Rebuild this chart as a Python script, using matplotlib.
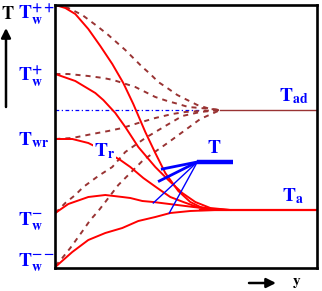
import matplotlib
matplotlib.use('Agg')
import matplotlib.pyplot as plt

#
# DATA (distance from wall, temperature) in arbitrary units
#

T_AD = 158
T_A = 58

# solid profiles: wall -> ambient temperature T_a
red_tw_pp_d = [0, 10, 20, 33, 45, 57, 68, 78, 90, 100, 110, 123, 135, 145, 160, 175]
red_tw_pp_t = [263, 260, 254, 239, 222, 204, 185, 164, 136, 115, 95, 77, 66, 61, 58, 58]

red_tw_p_d = [0, 20, 40, 48, 60, 70, 83, 100, 113, 127, 140, 155, 175]
red_tw_p_t = [194, 187, 175, 168, 155, 141, 121, 101, 88, 75, 66, 60, 58]

red_twr_d = [0, 17, 33, 45, 58, 65, 75, 88, 102, 115, 128, 142, 155, 170]
red_twr_t = [129, 129, 125, 119, 112, 108, 101, 90, 80, 71, 66, 61, 59, 58]

red_tw_m_d = [0, 13, 33, 50, 67, 75, 87, 98, 122, 138, 155, 175]
red_tw_m_t = [55, 64, 71, 73, 71, 70, 67, 66, 63, 61, 59, 58]

red_tw_mm_d = [0, 17, 33, 50, 67, 83, 100, 115, 135, 160]
red_tw_mm_t = [1, 16, 28, 35, 40, 47, 51, 55, 57, 58]

# dashed profiles: wall -> adiabatic wall temperature T_ad
brn_tw_pp_d = [0, 13, 27, 43, 53, 70, 78, 87, 95, 103, 112, 122, 132, 142, 155, 165]
brn_tw_pp_t = [263, 260, 253, 241, 233, 218, 210, 201, 194, 186, 180, 173, 168, 163, 159, 158]

brn_tw_p_d = [0, 13, 33, 48, 58, 80, 90, 100, 112, 123, 133, 145, 165]
brn_tw_p_t = [194, 194, 192, 190, 188, 181, 176, 171, 167, 164, 161, 160, 158]

brn_twr_d = [0, 17, 37, 53, 67, 83, 100, 117, 130, 145, 165]
brn_twr_t = [129, 130, 134, 137, 140, 145, 150, 154, 156, 157, 158]

brn_tw_m_d = [0, 3, 10, 20, 28, 43, 57, 70, 90, 110, 127, 145, 165]
brn_tw_m_t = [55, 58, 65, 73, 81, 92, 101, 116, 130, 142, 152, 156, 158]

brn_tw_mm_d = [0, 7, 15, 28, 35, 43, 50, 63, 88, 98, 108, 115, 130, 145, 165]
brn_tw_mm_t = [2, 10, 20, 38, 48, 57, 66, 83, 108, 115, 122, 127, 138, 149, 158]

# marker "T" and its links to the profiles
t_mark_d = [142, 178]
t_mark_t = [106, 106]
t_links_d = [107, 104, 98, 114]
t_links_t = [99, 87, 65, 55]
t_links_lw = [2.0, 2.0, 1.0, 1.0]

RED = '#ff0000'
BROWN = '#993333'
BLUE = '#0000ff'

plt.rcParams['mathtext.fontset'] = 'stix'

W, H = 322, 291
fig = plt.figure(figsize=(W / 100, H / 100), dpi=100)
ax = fig.add_axes([55.3 / W, 1 - 268 / H, 261.4 / W, 263.5 / H])
ax.set_xlim(0, 261.4)
ax.set_ylim(0, 263.5)
ax.set_xticks([])
ax.set_yticks([])
for s in ax.spines.values():
    s.set_linewidth(1.9)

# reference levels
ax.plot([0, 145], [T_AD, T_AD], color=BLUE, lw=0.9, ls=(0, (3, 2, 1, 2)))
ax.plot([165, 261.4], [T_AD, T_AD], color=BROWN, lw=1.0)
ax.plot([145, 261.4], [T_A, T_A], color=RED, lw=1.6)

for d, t in [(brn_tw_pp_d, brn_tw_pp_t), (brn_tw_p_d, brn_tw_p_t), (brn_twr_d, brn_twr_t),
             (brn_tw_m_d, brn_tw_m_t), (brn_tw_mm_d, brn_tw_mm_t)]:
    ax.plot(d, t, color=BROWN, lw=1.4, ls=(0, (2.6, 2.6)))

for d, t in [(red_tw_pp_d, red_tw_pp_t), (red_tw_p_d, red_tw_p_t), (red_twr_d, red_twr_t),
             (red_tw_m_d, red_tw_m_t), (red_tw_mm_d, red_tw_mm_t)]:
    ax.plot(d, t, color=RED, lw=1.4)

# T marker with fan
for d, t, lw in zip(t_links_d, t_links_t, t_links_lw):
    ax.plot([t_mark_d[0], d], [t_mark_t[0], t], color=BLUE, lw=lw)
ax.plot(t_mark_d, t_mark_t, color=BLUE, lw=3.2, solid_capstyle='butt')

#
# LABELS
#


def label(x, y, s, color=BLUE, size=14, **kw):
    fig.text(x / W, 1 - y / H, s, color=color, fontsize=size, ha='left', va='baseline', **kw)


label(18, 20, r'$\mathbf{T_w^{++}}$')
label(18, 82, r'$\mathbf{T_w^{+}}$')
label(18, 145, r'$\mathbf{T_{wr}}$')
label(18, 226, r'$\mathbf{T_w^{-}}$')
label(18, 267, r'$\mathbf{T_w^{--}}$')
label(94, 156, r'$\mathbf{T_r}$', bbox=dict(facecolor='white', edgecolor='none', pad=0.5))
label(279, 101, r'$\mathbf{T_{ad}}$')
label(282, 201, r'$\mathbf{T_a}$')
label(207, 153, r'$\mathbf{T}$')
label(1, 19, r'$\mathbf{T}$', color='black', size=13)
label(292, 285, r'$\mathbf{y}$', color='black', size=11)

arrow = dict(arrowstyle='-|>', lw=1.8, color='black', mutation_scale=14, shrinkA=0, shrinkB=0)
ax.annotate('', xy=(6 / W, 1 - 28 / H), xytext=(6 / W, 1 - 107 / H),
            xycoords='figure fraction', textcoords='figure fraction', arrowprops=arrow)
ax.annotate('', xy=(276 / W, 1 - 283 / H), xytext=(249 / W, 1 - 283 / H),
            xycoords='figure fraction', textcoords='figure fraction', arrowprops=arrow)

fig.savefig('out.png', dpi=100)
